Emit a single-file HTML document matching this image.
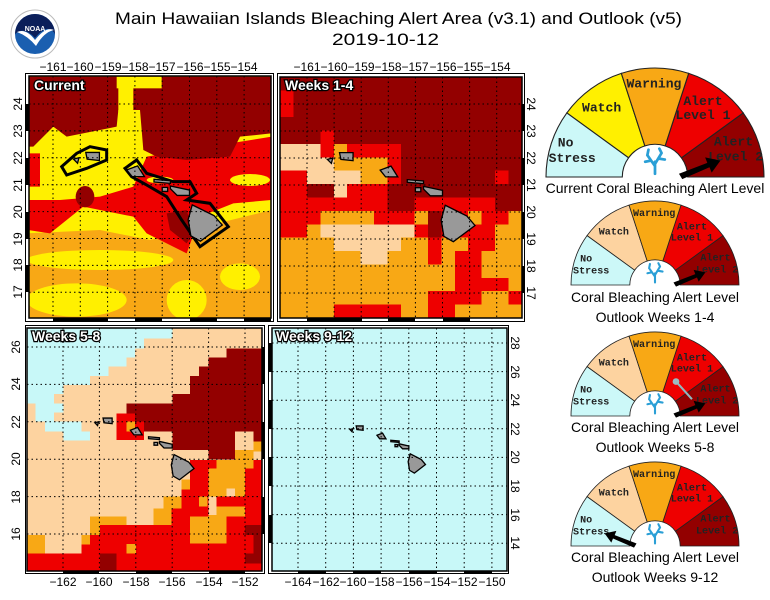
<!DOCTYPE html>
<html><head><meta charset="utf-8"><style>
html,body{margin:0;padding:0;background:#fff;}
svg{display:block;}
.t{font-family:"Liberation Sans",sans-serif;font-size:12px;fill:#000;}
.pl{font-family:"Liberation Sans",sans-serif;font-size:14px;font-weight:bold;fill:#fff;stroke:#000;stroke-width:2.5px;paint-order:stroke;}
.g{font-family:"Liberation Mono",monospace;font-size:12px;font-weight:bold;fill:#222;text-anchor:middle;}
.gl{font-family:"Liberation Sans",sans-serif;font-size:14px;fill:#000;text-anchor:middle;}
.dot{stroke:#000;stroke-width:1;stroke-dasharray:1.5,3;fill:none;}
.isl{fill:#999;stroke:#000;stroke-width:1.3;vector-effect:non-scaling-stroke;}
</style></head><body>
<svg width="770" height="600" viewBox="0 0 770 600" xmlns="http://www.w3.org/2000/svg">
<defs>
<clipPath id="c1"><rect x="29" y="76" width="242" height="242"/></clipPath>
<clipPath id="c3"><rect x="27" y="328" width="235" height="243"/></clipPath>
<g id="islands">
<polygon class="isl" points="-155.9,20.25 -155.1,19.85 -154.8,19.5 -155.6,18.9 -155.95,19.1 -156.05,19.7"/>
<polygon class="isl" points="-156.7,20.95 -156.0,20.8 -156.0,20.6 -156.45,20.6 -156.7,20.85"/>
<polygon class="isl" points="-157.3,21.2 -156.7,21.15 -156.7,21.05 -157.3,21.1"/>
<polygon class="isl" points="-157.0,20.9 -156.8,20.9 -156.8,20.75 -157.0,20.75"/>
<polygon class="isl" points="-158.3,21.55 -157.9,21.7 -157.65,21.3 -158.1,21.3"/>
<polygon class="isl" points="-159.8,22.2 -159.3,22.2 -159.3,21.9 -159.75,21.95"/>
<polygon class="isl" points="-160.25,21.95 -160.05,22.0 -160.1,21.8"/>
</g>
<g id="gauge">
<path d="M-100,0 A100,100 0 0 1 -80.9,-58.8 L-24.27,-17.63 A30,30 0 0 0 -30,0 Z" fill="#ccf8f8" stroke="#222" stroke-width="1"/>
<path d="M80.9,-58.8 A100,100 0 0 1 100,0 L30,0 A30,30 0 0 0 24.27,-17.63 Z" fill="#930000" stroke="#222" stroke-width="1"/>
<path d="M30.9,-95.1 A100,100 0 0 1 80.9,-58.8 L24.27,-17.63 A30,30 0 0 0 9.27,-28.53 Z" fill="#ee0000" stroke="#222" stroke-width="1"/>
<path d="M-30.9,-95.1 A100,100 0 0 1 30.9,-95.1 L9.27,-28.53 A30,30 0 0 0 -9.27,-28.53 Z" fill="#f8a815" stroke="#222" stroke-width="1"/>
<g stroke="#2a9fd6" stroke-width="2.5" fill="none" stroke-linecap="round">
<path d="M0,-3 L0,-14 M0,-10 L-7,-20 M0,-12 L6,-22 M-4,-15 L-9,-14 M3,-17 L9,-16 M-7,-20 L-6,-25 M6,-22 L4,-26"/>
</g>
<text class="g" x="-82" y="-28">No</text><text class="g" x="-76" y="-14">Stress</text>
<text class="g" x="-1" y="-82">Warning</text>
<text class="g" x="44" y="-66">Alert</text><text class="g" x="44" y="-53">Level 1</text>
<text class="g" x="72" y="-29">Alert</text><text class="g" x="74" y="-15">Level 2</text>
</g>
<polygon id="arR" points="22,-3 48,-13 46,-18 60,-15 52,-4 50,-9 25,2" fill="#000"/>
</defs>

<!-- logo -->
<circle cx="35" cy="34" r="24" fill="#fff" stroke="#bbb"/>
<circle cx="35" cy="34" r="20" fill="#1a5fb0"/>
<path d="M15,34 A20,20 0 0 1 55,34 Q48,22 35,38 Q24,26 15,34Z" fill="#0b1f5a"/>
<path d="M17,32 Q26,28 35,40 Q46,26 54,30 Q44,32 36,46 Q28,36 17,32Z" fill="#fff"/>
<text x="35" y="31" font-family="Liberation Sans" font-size="7" font-weight="bold" fill="#fff" text-anchor="middle">NOAA</text>

<text x="115" y="24" font-family="Liberation Sans" font-size="17" textLength="567" lengthAdjust="spacingAndGlyphs">Main Hawaiian Islands Bleaching Alert Area (v3.1) and Outlook (v5)</text>
<text x="332" y="45" font-family="Liberation Sans" font-size="17" textLength="107" lengthAdjust="spacingAndGlyphs">2019-10-12</text>

<!-- PANEL 1: Current -->
<g clip-path="url(#c1)">
<svg x="0" y="0" width="280" height="330" viewBox="0 0 840 990">
<rect x="80" y="220" width="740" height="750" fill="#fff000"/>
<polygon points="85,700 300,690 450,720 815,630 815,960 85,960" fill="#f8a815"/>
<ellipse cx="300" cy="780" rx="220" ry="30" fill="#fff000"/>
<ellipse cx="230" cy="900" rx="150" ry="50" fill="#fff000"/>
<ellipse cx="560" cy="900" rx="60" ry="60" fill="#fff000"/>
<ellipse cx="720" cy="830" rx="60" ry="40" fill="#fff000"/>
<polygon points="440,470 815,410 815,600 700,610 600,650 560,760 440,700 400,650 250,620 150,700 85,690 85,600 180,600 300,590 400,560" fill="#ee0000"/>
<polygon points="85,460 120,460 120,560 85,560" fill="#ee0000"/>
<polygon points="85,230 815,230 815,400 720,410 690,470 560,480 470,470 430,450 420,330 355,330 350,380 200,410 160,380 100,440 85,440" fill="#930000"/>
<rect x="350" y="230" width="135" height="35" fill="#fff000"/>
<rect x="355" y="260" width="45" height="75" fill="#fff000"/>
<ellipse cx="255" cy="590" rx="28" ry="32" fill="#930000"/>
<polygon points="500,640 560,630 580,700 560,730 510,690" fill="#930000"/>
<ellipse cx="750" cy="540" rx="60" ry="18" fill="#fff000"/>
<ellipse cx="480" cy="540" rx="40" ry="10" fill="#fff000"/>
<polygon points="185,500 230,460 270,440 320,450 320,480 260,505 200,525" fill="#fff000" stroke="#000" stroke-width="9"/>
<polygon points="375,505 410,480 440,520 520,545 570,545 590,580 560,600 630,610 685,680 600,740 545,660 500,590 440,555 395,530" fill="none" stroke="#000" stroke-width="9"/>
</svg>
<g transform="matrix(27.3,0,0,-26.9,4448.3,749.6)"><use href="#islands"/></g>
</g>
<g class="dot">
<path d="M53,76V318M80.3,76V318M107.6,76V318M134.9,76V318M162.2,76V318M189.5,76V318M216.8,76V318M244.1,76V318"/>
<path d="M29,104H271M29,130.9H271M29,157.8H271M29,184.7H271M29,211.6H271M29,238.5H271M29,265.4H271M29,292.3H271"/>
</g>
<rect x="25.5" y="73.5" width="248" height="248" fill="none" stroke="#000"/>
<rect x="29" y="76" width="242" height="242" fill="none" stroke="#000" stroke-width="1.5"/>
<g fill="#000"><rect x="53" y="318" width="55" height="3"/><rect x="135" y="318" width="27" height="3"/><rect x="190" y="318" width="27" height="3"/><rect x="244" y="318" width="27" height="3"/><rect x="26" y="104" width="3" height="27"/><rect x="26" y="158" width="3" height="27"/><rect x="26" y="212" width="3" height="27"/><rect x="26" y="265" width="3" height="27"/></g>
<text class="pl" x="34" y="90">Current</text>
<g class="t" text-anchor="middle">
<text x="53" y="71">−161</text><text x="80" y="71">−160</text><text x="108" y="71">−159</text><text x="135" y="71">−158</text><text x="162" y="71">−157</text><text x="190" y="71">−156</text><text x="217" y="71">−155</text><text x="244" y="71">−154</text>
<text transform="translate(22,104) rotate(-90)">24</text><text transform="translate(22,131) rotate(-90)">23</text><text transform="translate(22,158) rotate(-90)">22</text><text transform="translate(22,185) rotate(-90)">21</text><text transform="translate(22,212) rotate(-90)">20</text><text transform="translate(22,239) rotate(-90)">19</text><text transform="translate(22,265) rotate(-90)">18</text><text transform="translate(22,292) rotate(-90)">17</text>
</g>

<!-- PANEL 2: Weeks 1-4 -->
<svg x="280" y="77" width="242" height="241" viewBox="0 0 18 18" preserveAspectRatio="none" shape-rendering="crispEdges">
<rect width="18" height="18" fill="#930000"/>
<g fill="#ee0000">
<rect x="0" y="1" width="1" height="2"/><rect x="3" y="4" width="1" height="2"/><rect x="5" y="5" width="4" height="1"/><rect x="8" y="6" width="1" height="2"/><rect x="0" y="7" width="2" height="2"/><rect x="16" y="7" width="1" height="1"/><rect x="5" y="8" width="3" height="1"/>
<rect x="0" y="9" width="8" height="1"/><rect x="10" y="9" width="6" height="1"/>
<rect x="0" y="10" width="3" height="1"/><rect x="7" y="10" width="3" height="1"/><rect x="12" y="10" width="2" height="1"/><rect x="15" y="10" width="2" height="1"/>
<rect x="0" y="11" width="2" height="1"/><rect x="10" y="11" width="1" height="1"/><rect x="12" y="11" width="4" height="1"/>
<rect x="11" y="12" width="1" height="1"/><rect x="14" y="12" width="2" height="1"/>
<rect x="11" y="13" width="1" height="1"/><rect x="13" y="13" width="2" height="1"/>
<rect x="13" y="14" width="2" height="1"/><rect x="13" y="15" width="4" height="1"/>
<rect x="11" y="16" width="4" height="1"/><rect x="17" y="16" width="1" height="1"/>
<rect x="4" y="17" width="5" height="1"/><rect x="11" y="17" width="2" height="1"/>
</g>
<g fill="#f8a815">
<rect x="4" y="5" width="1" height="1"/><rect x="4" y="6" width="4" height="1"/><rect x="6" y="7" width="2" height="1"/>
<rect x="3" y="10" width="4" height="1"/><rect x="10" y="10" width="1" height="1"/><rect x="14" y="10" width="1" height="1"/><rect x="17" y="10" width="1" height="1"/>
<rect x="2" y="11" width="1" height="1"/><rect x="16" y="11" width="2" height="1"/>
<rect x="0" y="12" width="4" height="1"/><rect x="9" y="12" width="2" height="1"/><rect x="12" y="12" width="2" height="1"/><rect x="16" y="12" width="2" height="1"/>
<rect x="0" y="13" width="6" height="1"/><rect x="8" y="13" width="3" height="1"/><rect x="12" y="13" width="1" height="1"/><rect x="15" y="13" width="3" height="1"/>
<rect x="0" y="14" width="13" height="1"/><rect x="15" y="14" width="3" height="1"/>
<rect x="0" y="15" width="13" height="1"/><rect x="17" y="15" width="1" height="1"/>
<rect x="0" y="16" width="11" height="1"/><rect x="15" y="16" width="2" height="1"/>
<rect x="0" y="17" width="4" height="1"/><rect x="9" y="17" width="2" height="1"/><rect x="13" y="17" width="5" height="1"/>
</g>
<g fill="#fdd3a0">
<rect x="0" y="5" width="3" height="1"/><rect x="0" y="6" width="4" height="1"/><rect x="2" y="7" width="4" height="1"/><rect x="4" y="8" width="1" height="1"/>
<rect x="3" y="11" width="7" height="1"/><rect x="4" y="12" width="5" height="1"/><rect x="6" y="13" width="2" height="1"/>
</g>
</svg>
<g transform="matrix(27.1,0,0,-27,4670.1,752)"><use href="#islands"/></g>
<g class="dot">
<path d="M307,77V318M334.1,77V318M361.2,77V318M388.3,77V318M415.4,77V318M442.5,77V318M469.6,77V318M496.7,77V318"/>
<path d="M280,104H522M280,131H522M280,158H522M280,185H522M280,212H522M280,239H522M280,266H522M280,293H522"/>
</g>
<rect x="277.5" y="73.5" width="247" height="248" fill="none" stroke="#000"/>
<rect x="280" y="77" width="242" height="241" fill="none" stroke="#000" stroke-width="1.5"/>
<g fill="#000"><rect x="307" y="318" width="55" height="3"/><rect x="388" y="318" width="27" height="3"/><rect x="443" y="318" width="27" height="3"/><rect x="522" y="104" width="3" height="27"/><rect x="522" y="158" width="3" height="27"/><rect x="522" y="212" width="3" height="27"/><rect x="522" y="266" width="3" height="27"/></g>
<text class="pl" x="285" y="90">Weeks 1-4</text>
<g class="t" text-anchor="middle">
<text x="307" y="71">−161</text><text x="334" y="71">−160</text><text x="361" y="71">−159</text><text x="388" y="71">−158</text><text x="415" y="71">−157</text><text x="443" y="71">−156</text><text x="470" y="71">−155</text><text x="497" y="71">−154</text>
<text transform="translate(527,104) rotate(90)">24</text><text transform="translate(527,131) rotate(90)">23</text><text transform="translate(527,158) rotate(90)">22</text><text transform="translate(527,185) rotate(90)">21</text><text transform="translate(527,212) rotate(90)">20</text><text transform="translate(527,239) rotate(90)">19</text><text transform="translate(527,266) rotate(90)">18</text><text transform="translate(527,293) rotate(90)">17</text>
</g>

<!-- PANEL 3: Weeks 5-8 -->
<g clip-path="url(#c3)">
<svg x="0" y="320" width="540" height="280" viewBox="0 0 1620 840" shape-rendering="crispEdges">
<rect x="80" y="20" width="710" height="740" fill="#fdd3a0"/>
<polygon points="80,20 517,20 517,55 432,55 432,85 405,85 405,112 380,112 380,140 325,140 325,168 270,168 270,195 190,195 190,222 162,222 162,250 80,250" fill="#c8f8f8"/>
<polygon points="107,250 190,250 190,278 162,278 162,305 245,305 245,335 270,335 270,362 190,362 190,335 135,335 135,305 107,305" fill="#c8f8f8"/>
<polygon points="80,700 245,700 245,645 270,645 270,615 300,615 300,590 380,590 380,615 460,615 460,565 490,565 490,530 545,530 545,478 570,478 570,420 650,420 650,445 760,445 760,420 790,420 790,760 80,760" fill="#ee0000"/>
<polygon points="350,280 432,280 432,360 350,360" fill="#ee0000"/>
<polygon points="680,85 790,85 790,335 705,335 705,418 625,418 625,390 517,390 517,335 432,335 432,305 405,305 405,280 380,280 380,250 517,250 517,222 570,222 570,168 597,168 597,140 625,140 625,112 680,112" fill="#930000"/>
<g fill="#f8a815">
<polygon points="650,420 760,420 760,445 735,445 735,530 705,530 705,505 680,505 680,530 625,530 625,445 650,445"/>
<rect x="760" y="365" width="30" height="30"/><rect x="705" y="390" width="55" height="30"/>
<rect x="490" y="530" width="55" height="35"/><rect x="460" y="565" width="55" height="50"/><rect x="545" y="478" width="25" height="30"/>
<polygon points="570,590 625,590 625,560 735,560 735,590 680,590 680,670 570,670"/>
<rect x="597" y="530" width="25" height="30"/>
<rect x="80" y="645" width="55" height="55"/><rect x="245" y="645" width="25" height="28"/>
<rect x="270" y="590" width="110" height="25"/><rect x="270" y="615" width="30" height="30"/>
<rect x="380" y="672" width="28" height="28"/><rect x="380" y="305" width="25" height="30"/>
</g>
<g fill="#fdd3a0"><rect x="705" y="335" width="55" height="30"/><rect x="680" y="505" width="25" height="25"/><rect x="625" y="530" width="25" height="55"/></g>
<g fill="#930000"><rect x="300" y="700" width="50" height="60"/><rect x="735" y="615" width="55" height="30"/><rect x="760" y="645" width="30" height="85"/><rect x="735" y="700" width="30" height="30"/><rect x="760" y="335" width="30" height="30"/></g>
</svg>
<g transform="matrix(18.2,0,0,-18.7,3011.4,833.2)"><use href="#islands"/></g>
</g>
<g class="dot">
<path d="M63,328V571M99.4,328V571M135.8,328V571M172.2,328V571M208.6,328V571M245,328V571"/>
<path d="M27,347H262M27,384.4H262M27,421.8H262M27,459.2H262M27,496.6H262M27,534H262"/>
</g>
<rect x="25.5" y="325.5" width="239" height="248" fill="none" stroke="#000"/>
<rect x="27" y="328" width="235" height="243" fill="none" stroke="#000" stroke-width="1.5"/>
<g fill="#000"><rect x="63" y="571" width="36" height="3"/><rect x="136" y="571" width="36" height="3"/><rect x="209" y="571" width="36" height="3"/><rect x="262" y="347" width="3" height="37"/><rect x="262" y="422" width="3" height="37"/><rect x="262" y="497" width="3" height="37"/></g>
<text class="pl" x="32" y="341">Weeks 5-8</text>
<g class="t" text-anchor="middle">
<text x="63" y="586">−162</text><text x="99" y="586">−160</text><text x="136" y="586">−158</text><text x="172" y="586">−156</text><text x="209" y="586">−154</text><text x="245" y="586">−152</text>
<text transform="translate(20,347) rotate(-90)">26</text><text transform="translate(20,384) rotate(-90)">24</text><text transform="translate(20,422) rotate(-90)">22</text><text transform="translate(20,459) rotate(-90)">20</text><text transform="translate(20,497) rotate(-90)">18</text><text transform="translate(20,534) rotate(-90)">16</text>
</g>

<!-- PANEL 4: Weeks 9-12 -->
<rect x="272" y="328" width="235" height="243" fill="#c8f8f8"/>
<g transform="matrix(13.86,0,0,-14.3,2571.0,743.4)"><use href="#islands"/></g>
<g class="dot">
<path d="M298,328V571M325.7,328V571M353.4,328V571M381.1,328V571M408.8,328V571M436.5,328V571M464.2,328V571M491.9,328V571"/>
<path d="M272,343H507M272,371.6H507M272,400.2H507M272,428.8H507M272,457.4H507M272,486H507M272,514.6H507M272,543.2H507"/>
</g>
<rect x="268.5" y="325.5" width="240" height="248" fill="none" stroke="#000"/>
<rect x="272" y="328" width="235" height="243" fill="none" stroke="#000" stroke-width="1.5"/>
<g fill="#000"><rect x="298" y="571" width="28" height="3"/><rect x="353" y="571" width="28" height="3"/><rect x="409" y="571" width="28" height="3"/><rect x="464" y="571" width="28" height="3"/><rect x="269" y="343" width="3" height="29"/><rect x="269" y="400" width="3" height="29"/><rect x="269" y="457" width="3" height="29"/><rect x="269" y="515" width="3" height="28"/></g>
<text class="pl" x="276" y="341">Weeks 9-12</text>
<g class="t" text-anchor="middle">
<text x="298" y="586">−164</text><text x="326" y="586">−162</text><text x="353" y="586">−160</text><text x="381" y="586">−158</text><text x="409" y="586">−156</text><text x="437" y="586">−154</text><text x="464" y="586">−152</text><text x="492" y="586">−150</text>
<text transform="translate(511,343) rotate(90)">28</text><text transform="translate(511,372) rotate(90)">26</text><text transform="translate(511,400) rotate(90)">24</text><text transform="translate(511,429) rotate(90)">22</text><text transform="translate(511,457) rotate(90)">20</text><text transform="translate(511,486) rotate(90)">18</text><text transform="translate(511,515) rotate(90)">16</text><text transform="translate(511,543) rotate(90)">14</text>
</g>

<!-- GAUGES -->
<g transform="translate(655,177) scale(1.09)">
<path d="M-80.9,-58.8 A100,100 0 0 1 -30.9,-95.1 L-9.27,-28.53 A30,30 0 0 0 -24.27,-17.63 Z" fill="#fff000" stroke="#222" stroke-width="1"/>
<use href="#gauge"/><text class="g" x="-49" y="-60">Watch</text>
<use href="#arR"/>
</g>
<text class="gl" x="655" y="193">Current Coral Bleaching Alert Level</text>

<g transform="translate(655,285) scale(0.84)">
<path d="M-80.9,-58.8 A100,100 0 0 1 -30.9,-95.1 L-9.27,-28.53 A30,30 0 0 0 -24.27,-17.63 Z" fill="#fdd3a0" stroke="#222" stroke-width="1"/>
<use href="#gauge"/><text class="g" x="-49" y="-60">Watch</text>
<use href="#arR"/>
</g>
<text class="gl" x="655" y="302">Coral Bleaching Alert Level</text>
<text class="gl" x="655" y="322">Outlook Weeks 1-4</text>

<g transform="translate(655,416) scale(0.84)">
<path d="M-80.9,-58.8 A100,100 0 0 1 -30.9,-95.1 L-9.27,-28.53 A30,30 0 0 0 -24.27,-17.63 Z" fill="#fdd3a0" stroke="#222" stroke-width="1"/>
<use href="#gauge"/><text class="g" x="-49" y="-60">Watch</text>
<line x1="26" y1="-40" x2="44" y2="-20" stroke="#8fb8c0" stroke-width="2.5"/><circle cx="25" cy="-41" r="4" fill="#9bbcc2"/>
<use href="#arR"/>
</g>
<text class="gl" x="655" y="432">Coral Bleaching Alert Level</text>
<text class="gl" x="655" y="452">Outlook Weeks 5-8</text>

<g transform="translate(655,546) scale(0.84)">
<path d="M-80.9,-58.8 A100,100 0 0 1 -30.9,-95.1 L-9.27,-28.53 A30,30 0 0 0 -24.27,-17.63 Z" fill="#fdd3a0" stroke="#222" stroke-width="1"/>
<use href="#gauge"/><text class="g" x="-49" y="-60">Watch</text>
<use href="#arR" transform="scale(-1,1)"/>
</g>
<text class="gl" x="655" y="562">Coral Bleaching Alert Level</text>
<text class="gl" x="655" y="582">Outlook Weeks 9-12</text>
</svg>
</body></html>
